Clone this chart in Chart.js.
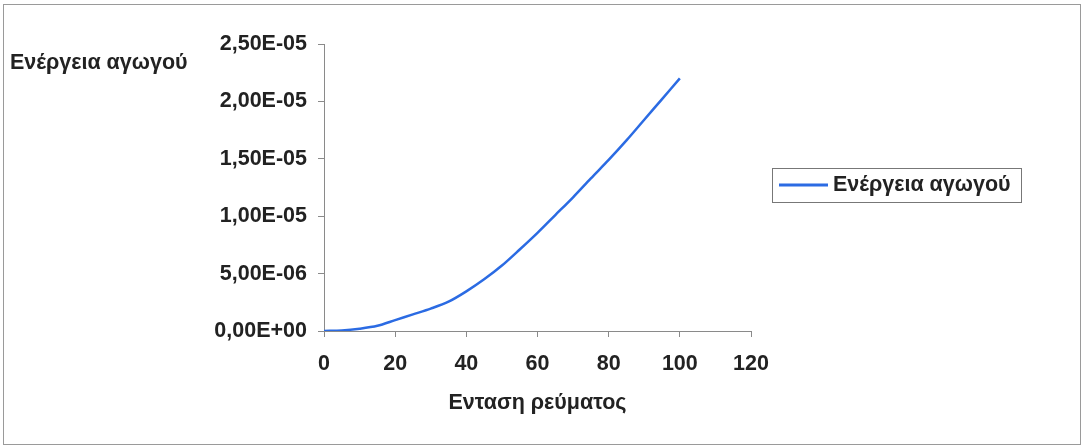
<!DOCTYPE html>
<html>
<head>
<meta charset="utf-8">
<script src="https://cdn.jsdelivr.net/npm/chart.js@4"></script>
<style>
  body { margin: 0; background: #fff; }
  #wrap { width: 1083px; height: 448px; }
</style>
</head>
<body>
<div id="wrap"><canvas id="myChart" width="1083" height="448"></canvas></div>
<script>
// current (x) and conductor energy (y)
const current = [0, 5, 10, 15, 20, 25, 30, 35, 40, 45, 50, 55, 60, 65, 70, 75, 80, 85, 90, 95, 100];
const energy = [0, 0.05e-6, 0.2e-6, 0.45e-6, 0.95e-6, 1.45e-6, 1.95e-6, 2.55e-6, 3.45e-6, 4.5e-6,
    5.7e-6, 7.1e-6, 8.55e-6, 10.1e-6, 11.65e-6, 13.3e-6, 14.9e-6, 16.6e-6, 18.4e-6, 20.2e-6, 22.0e-6];
const seriesName = 'Ενέργεια αγωγού';
const xTitle = 'Ενταση ρεύματος';
const yTitle = 'Ενέργεια αγωγού';

const lineColor = '#2b6be3';
const textColor = '#222222';
const axisColor = '#8a8a8a';
const fontCss = 'bold 21.5px "Liberation Sans", Arial, sans-serif';
const font = { family: '"Liberation Sans", Arial, sans-serif', size: 21.5, weight: 'bold' };

// excel style 2,50E-05
function sciFormat(v) {
    if (Math.abs(v) < 1e-12) return '0,00E+00';
    let e = Math.floor(Math.log10(Math.abs(v)));
    let m = (v / Math.pow(10, e)).toFixed(2);
    if (Math.abs(parseFloat(m)) >= 10) { e += 1; m = (v / Math.pow(10, e)).toFixed(2); }
    const sign = e < 0 ? '-' : '+';
    const ex = String(Math.abs(e)).padStart(2, '0');
    return m.replace('.', ',') + 'E' + sign + ex;
}

const extras = {
    id: 'extras',
    beforeDraw(chart) {
        const c = chart.ctx;
        c.save();
        c.strokeStyle = '#9a9a9a';
        c.lineWidth = 1;
        c.strokeRect(3.5, 4.5, 1077, 440);
        c.restore();
    },
    afterDraw(chart) {
        const c = chart.ctx;
        c.save();
        c.font = fontCss;
        c.fillStyle = textColor;
        c.textBaseline = 'middle';
        // y title, horizontal at top left
        c.fillText(yTitle, 10, 63);

        // legend box
        c.strokeStyle = '#777';
        c.lineWidth = 1;
        c.strokeRect(772.5, 168.5, 249, 34);
        c.strokeStyle = lineColor;
        c.lineWidth = 3;
        c.beginPath();
        c.moveTo(779, 185);
        c.lineTo(828, 185);
        c.stroke();
        c.fillText(seriesName, 833, 185);
        c.restore();
    }
};

const ctx = document.getElementById('myChart').getContext('2d');
const myChart = new Chart(ctx, {
    type: 'line',
    data: {
        datasets: [{
            label: seriesName,
            data: current.map((x, i) => ({ x: x, y: energy[i] })),
            borderColor: lineColor,
            backgroundColor: lineColor,
            borderWidth: 2.5,
            pointRadius: 0,
            tension: 0.3,
            fill: false
        }]
    },
    options: {
        responsive: false,
        animation: false,
        layout: { padding: { left: 0, right: 332, top: 44, bottom: 0 } },
        plugins: {
            legend: { display: false },
            tooltip: { enabled: false }
        },
        scales: {
            x: {
                type: 'linear',
                min: 0,
                max: 120,
                ticks: { stepSize: 20, color: textColor, font: font, padding: 14 },
                grid: { drawOnChartArea: false, color: axisColor, tickLength: 6 },
                border: { color: axisColor },
                title: { display: true, text: xTitle, color: textColor, font: font, padding: { top: 0, bottom: 32 } },
                afterFit(scale) { scale.height = 117; }
            },
            y: {
                min: 0,
                max: 2.5e-5,
                ticks: { stepSize: 5e-6, color: textColor, font: font, padding: 11, callback: v => sciFormat(v) },
                grid: { drawOnChartArea: false, color: axisColor, tickLength: 6 },
                border: { color: axisColor },
                afterFit(scale) { scale.width = 324; }
            }
        }
    },
    plugins: [extras]
});
</script>
</body>
</html>
